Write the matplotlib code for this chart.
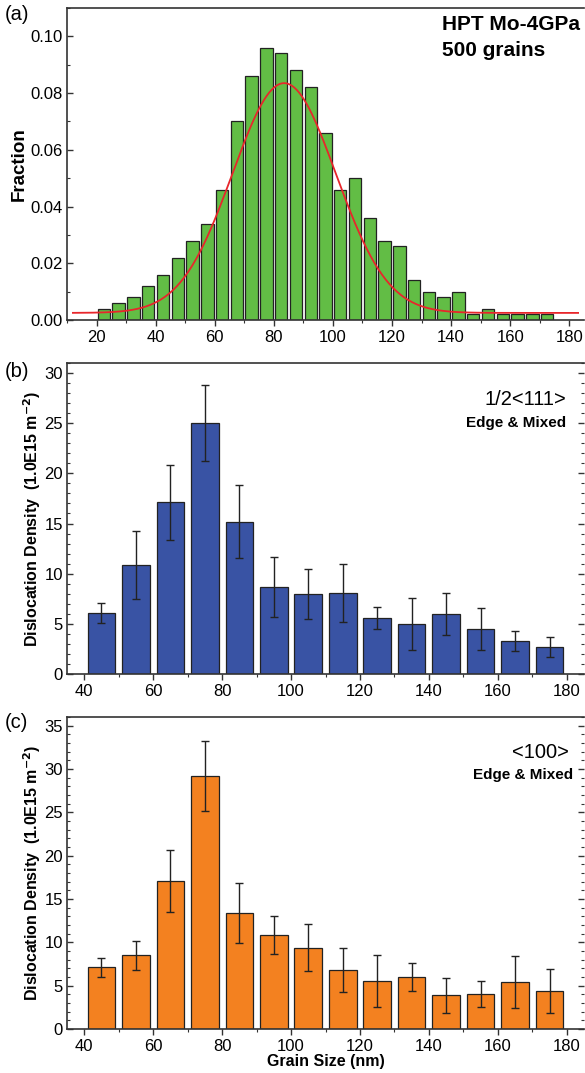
import numpy as np
import matplotlib
matplotlib.use('Agg')
import matplotlib.pyplot as plt
from matplotlib.ticker import MultipleLocator

plt.rcParams['font.family'] = ['Liberation Sans', 'DejaVu Sans']

# (a) grain size histogram, bins of 5 nm starting at 20 nm
bin_left = np.arange(20, 175, 5)
fraction = [0.004, 0.006, 0.008, 0.012, 0.016, 0.022, 0.028, 0.034, 0.046, 0.070,
            0.086, 0.096, 0.094, 0.088, 0.082, 0.066, 0.046, 0.050, 0.036, 0.028,
            0.026, 0.014, 0.010, 0.008, 0.010, 0.002, 0.004, 0.002, 0.002, 0.002,
            0.002]
# gaussian fit parameters
fit_y0, fit_xc, fit_sigma, fit_amp = 0.0025, 83.5, 17.5, 0.081
fit_range = (12, 183)

# (b) and (c) dislocation density per 10 nm grain-size class
size_centers = [45, 55, 65, 75, 85, 95, 105, 115, 125, 135, 145, 155, 165, 175]
dens_111 = [6.1, 10.9, 17.1, 25.0, 15.2, 8.7, 8.0, 8.1, 5.6, 5.0, 6.0, 4.5, 3.3, 2.7]
err_111 = [1.0, 3.4, 3.7, 3.8, 3.6, 3.0, 2.5, 2.9, 1.1, 2.6, 2.1, 2.1, 1.0, 1.0]
dens_100 = [7.1, 8.5, 17.1, 29.2, 13.4, 10.8, 9.4, 6.8, 5.5, 6.0, 3.9, 4.0, 5.4, 4.4]
err_100 = [1.1, 1.7, 3.6, 4.0, 3.5, 2.2, 2.7, 2.5, 3.0, 1.6, 2.0, 1.5, 3.0, 2.5]

W, H = 585, 1073
fig = plt.figure(figsize=(W / 100, H / 100), dpi=100)

def frac_axes(top, bottom):
    left, right = 67, 584
    return fig.add_axes([left / W, 1 - bottom / H, (right - left) / W, (bottom - top) / H])

ax_a = frac_axes(8, 320)
ax_b = frac_axes(363, 674)
ax_c = frac_axes(717, 1029)

spine_col = '#333333'
for ax in (ax_a, ax_b, ax_c):
    for s in ('left', 'bottom', 'top'):
        ax.spines[s].set_color(spine_col)
        ax.spines[s].set_linewidth(1.2)
    ax.spines['right'].set_visible(False)
    ax.tick_params(axis='x', which='major', direction='out', length=4, width=1,
                   color=spine_col, labelsize=12, pad=3)
    ax.tick_params(axis='x', which='minor', direction='out', length=2.5, width=0.8,
                   color=spine_col)
    ax.tick_params(axis='y', which='major', direction='in', length=4, width=1,
                   color=spine_col, labelsize=12, pad=3)
    ax.tick_params(axis='y', which='minor', direction='in', length=2.5, width=0.8,
                   color=spine_col)
    ax.tick_params(top=False, which='both')
    ax.xaxis.set_minor_locator(MultipleLocator(10))
    ax.xaxis.set_major_locator(MultipleLocator(20))

# panel (a)
ax_a.bar(bin_left + 2.5, fraction, width=4.2, color='#62bd45', edgecolor='#222222',
         linewidth=0.9)
xf = np.linspace(fit_range[0], fit_range[1], 400)
ax_a.plot(xf, fit_y0 + fit_amp * np.exp(-(xf - fit_xc) ** 2 / (2 * fit_sigma ** 2)),
          color='#e8262b', lw=1.3)
ax_a.set_xlim(10, 185)
ax_a.set_ylim(0, 0.11)
ax_a.yaxis.set_major_locator(MultipleLocator(0.02))
ax_a.yaxis.set_minor_locator(MultipleLocator(0.01))
ax_a.yaxis.set_major_formatter(plt.FormatStrFormatter('%.2f'))
ax_a.set_ylabel('Fraction', fontsize=13.5, fontweight='bold', labelpad=2)
fig.text(442 / W, 1 - 24 / H, 'HPT Mo-4GPa', ha='left', va='center', fontsize=15,
         fontweight='bold')
fig.text(442 / W, 1 - 50 / H, '500 grains', ha='left', va='center', fontsize=15,
         fontweight='bold')

def density_panel(ax, vals, errs, color, ymax):
    ax.bar(size_centers, vals, width=8, color=color, edgecolor='#222222', linewidth=0.9)
    ax.errorbar(size_centers, vals, yerr=errs, fmt='none', ecolor='#222222',
                elinewidth=1, capsize=3, capthick=1)
    ax.set_xlim(35, 185)
    ax.set_ylim(0, ymax)
    ax.yaxis.set_major_locator(MultipleLocator(5))
    ax.yaxis.set_minor_locator(MultipleLocator(1))
    ax.tick_params(axis='y', which='both', right=True)
    ax.set_ylabel(r'Dislocation Density  (1.0E15 m$^{\mathbf{-2}}$)', fontsize=11.5,
                  fontweight='bold', labelpad=1)
    return ax

density_panel(ax_b, dens_111, err_111, '#3953a4', 31)
fig.text(566 / W, 1 - 400 / H, '1/2<111>', ha='right', va='center', fontsize=14.5)
fig.text(566 / W, 1 - 423 / H, 'Edge & Mixed', ha='right', va='center', fontsize=11,
         fontweight='bold')

density_panel(ax_c, dens_100, err_100, '#f38120', 36)
fig.text(569 / W, 1 - 752 / H, '<100>', ha='right', va='center', fontsize=14.5)
fig.text(573 / W, 1 - 775 / H, 'Edge & Mixed', ha='right', va='center', fontsize=11,
         fontweight='bold')
ax_c.set_xlabel('Grain Size (nm)', fontsize=11.5, fontweight='bold', labelpad=0)

for lab, y in (('(a)', 15), ('(b)', 372), ('(c)', 723)):
    fig.text(5 / W, 1 - y / H, lab, ha='left', va='center', fontsize=14.5)

fig.savefig('out.png', dpi=100)
